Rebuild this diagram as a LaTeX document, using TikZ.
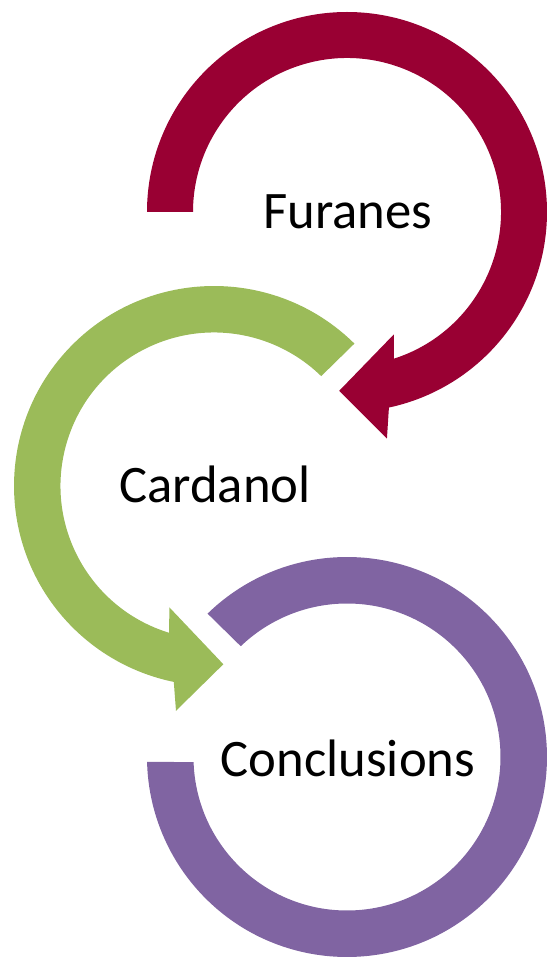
\documentclass[tikz,border=0pt]{standalone}
\usepackage{fontspec}
\setmainfont{Carlito}
\usepackage{tikz}
\usetikzlibrary{positioning}
\definecolor{furanred}{RGB}{153,0,51}
\definecolor{cardgreen}{RGB}{155,187,89}
\definecolor{conclpurple}{RGB}{128,100,162}

\begin{document}
\begin{tikzpicture}[
    x=0.02cm,y=0.02cm,
    ring/.style={line join=miter},
    lbl/.style={font=\fontsize{30}{36}\selectfont,anchor=base,inner sep=0pt},
]
\useasboundingbox (0,0) rectangle (547,958);
\begin{scope}[shift={(347,746)}]
\fill[ring,furanred] (180:200) arc[start angle=180,end angle=-77.9,radius=200] -- (-80:230) -- (-92.5:179) -- (-69:131) -- (-72.3:154) arc[start angle=-72.3,end angle=180,radius=154] -- cycle;
\end{scope}
\begin{scope}[shift={(214,472)}]
\fill[ring,cardgreen] (45.4:200) arc[start angle=45.4,end angle=258.4,radius=200] -- (260.4:228) -- (273:178.5) -- (249.8:129.3) -- (253:153.5) arc[start angle=253,end angle=45.7,radius=153.5] -- cycle;
\end{scope}
\begin{scope}[shift={(347,201)}]
\fill[ring,conclpurple] (134.2:200) arc[start angle=134.2,end angle=-178.6,radius=200] -- (-178.1:153.5) arc[start angle=-178.1,end angle=133.8,radius=153.5] -- cycle;
\end{scope}
\node[lbl] (F) at (348,729) {Furanes};
\node[lbl] (C) at (215,455) {Cardanol};
\node[lbl] (K) at (348,181) {Conclusions};
\end{tikzpicture}
\end{document}
